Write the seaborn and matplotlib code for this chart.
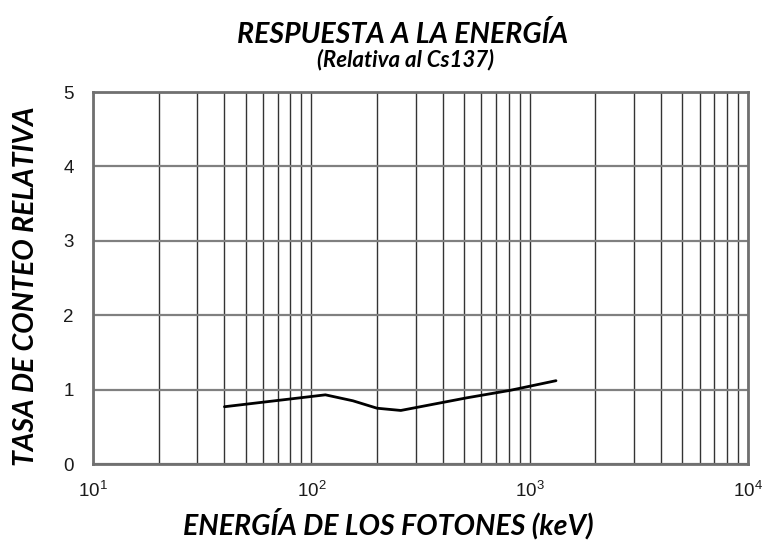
import numpy as np
import pandas as pd
import seaborn as sns
import matplotlib.pyplot as plt
from matplotlib.ticker import LogLocator, NullFormatter

# datos
energia_kev = [40, 116, 155, 200, 257, 516, 813, 1320]
tasa_relativa = [0.77, 0.93, 0.85, 0.75, 0.72, 0.89, 0.99, 1.12]
y_ticks = [0, 1, 2, 3, 4, 5]

df = pd.DataFrame({'energia': energia_kev, 'tasa': tasa_relativa})

sns.set_style('white')
plt.rcParams['font.family'] = ['Liberation Sans', 'DejaVu Sans']

fig = plt.figure(figsize=(7.66, 5.40), dpi=100)
ax = fig.add_axes([0.1214, 0.1407, 0.8551, 0.6889])

sns.lineplot(data=df, x='energia', y='tasa', color='black', linewidth=2, ax=ax)

ax.set_xscale('log')
ax.set_xlim(10, 1e4)
ax.set_ylim(0, 5)
ax.set_yticks(y_ticks)
ax.xaxis.set_major_locator(LogLocator(base=10, numticks=10))
ax.xaxis.set_minor_locator(LogLocator(base=10, subs=np.arange(2, 10), numticks=100))
ax.xaxis.set_minor_formatter(NullFormatter())

ax.grid(True, axis='x', which='both', color='#333333', linewidth=1)
ax.grid(True, axis='y', which='major', color='#808080', linewidth=1.6)
for s in ax.spines.values():
    s.set_color('#707070')
    s.set_linewidth(2)
ax.tick_params(axis='both', which='both', length=0, labelsize=13.5, colors='#1a1a1a')
ax.tick_params(axis='x', pad=12)
ax.tick_params(axis='y', pad=14)
ax.set_xlabel('')
ax.set_ylabel('')

lbl = dict(family=['Lato', 'DejaVu Sans'], fontweight='bold', fontstyle='italic', color='black')
fig.text(0.507, 0.031, 'ENERGÍA DE LOS FOTONES (keV)', ha='center', va='center', fontsize=20.5, **lbl)
fig.text(0.034, 0.469, 'TASA DE CONTEO RELATIVA', ha='center', va='center', rotation=90, fontsize=20.5, **lbl)
fig.text(0.526, 0.937, 'RESPUESTA A LA ENERGÍA', ha='center', va='center', fontsize=20.5, **lbl)
fig.text(0.529, 0.890, '(Relativa al Cs137)', ha='center', va='center', fontsize=16, **lbl)

plt.savefig('out.png', dpi=100)
